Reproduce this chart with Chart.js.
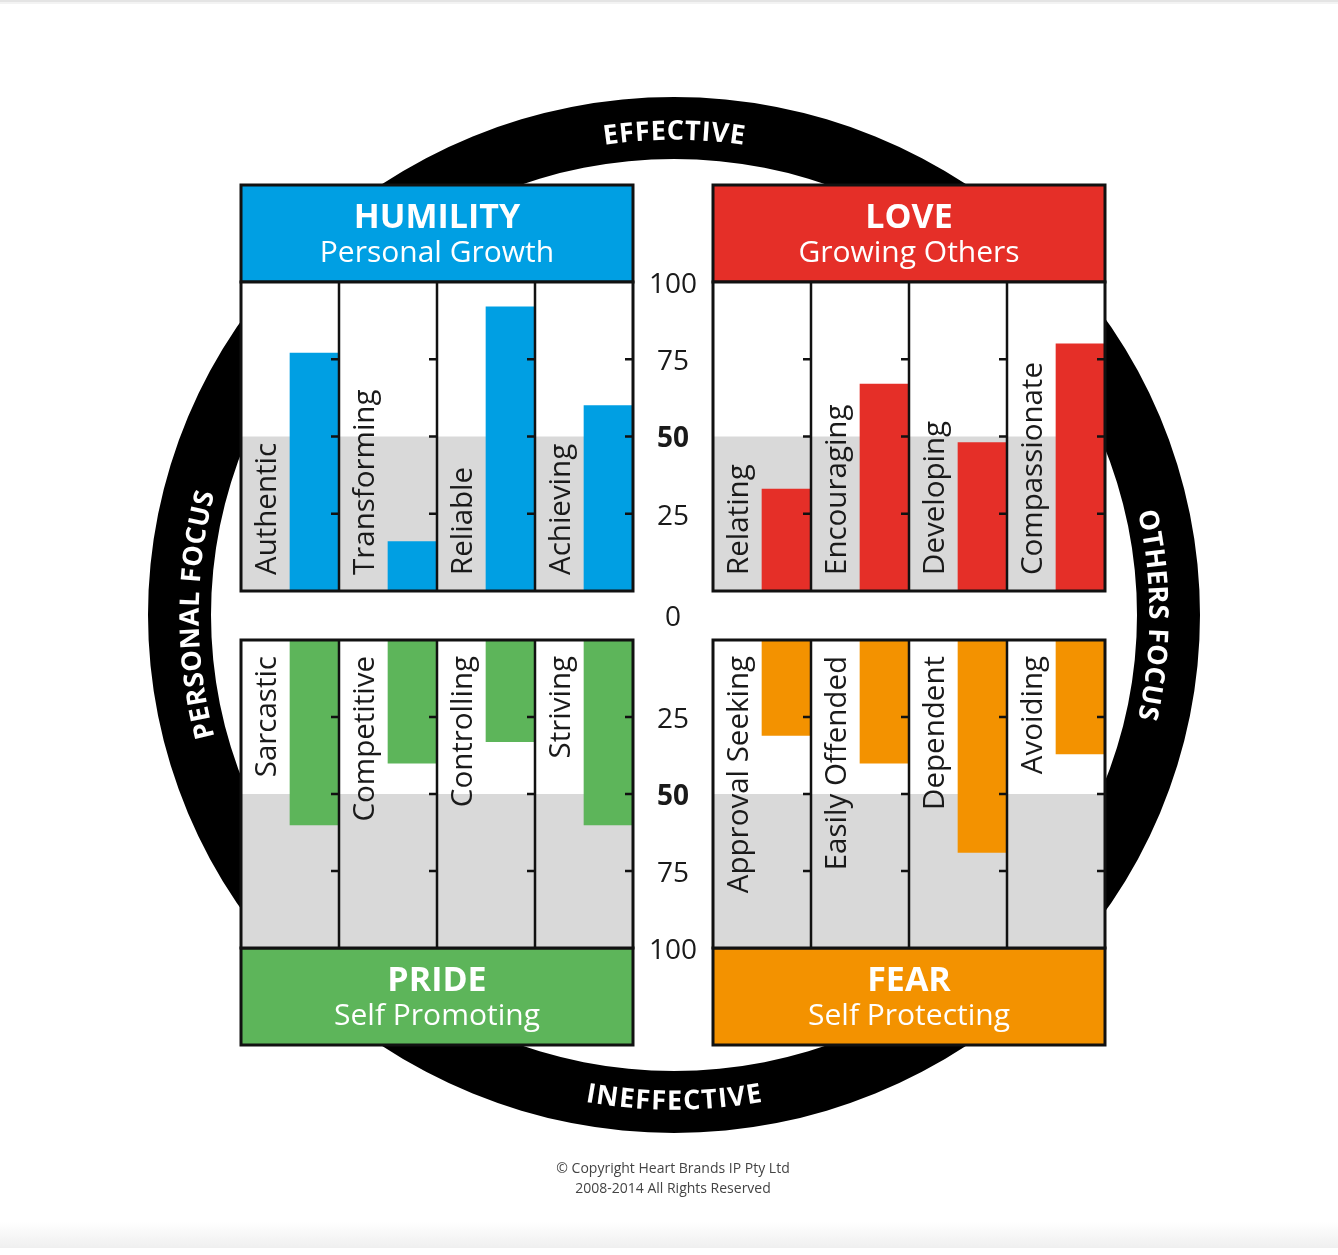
<!DOCTYPE html>
<html>
<head>
<meta charset="utf-8">
<title>Heart Brands profile</title>
<script src="https://cdn.jsdelivr.net/npm/chart.js@4.4.1/dist/chart.umd.min.js"></script>
<style>
  body { margin: 0; background: #fff; }
  #page { position: relative; width: 1338px; height: 1255px; overflow: hidden; }
  canvas { position: absolute; }
</style>
</head>
<body>
<div id="page">
  <canvas id="bg" width="1338" height="1255" style="left:0;top:0"></canvas>
  <canvas id="humility" width="483" height="340" style="left:230px;top:262px"></canvas>
  <canvas id="love" width="413" height="340" style="left:703px;top:262px"></canvas>
  <canvas id="pride" width="483" height="345" style="left:230px;top:628px"></canvas>
  <canvas id="fear" width="413" height="345" style="left:703px;top:628px"></canvas>
</div>
<script>
const humilityLabels = ['Authentic', 'Transforming', 'Reliable', 'Achieving'];
const humilityValues = [77, 16, 92, 60];
const loveLabels = ['Relating', 'Encouraging', 'Developing', 'Compassionate'];
const loveValues = [33, 67, 48, 80];
const prideLabels = ['Sarcastic', 'Competitive', 'Controlling', 'Striving'];
const prideValues = [60, 40, 33, 60];
const fearLabels = ['Approval Seeking', 'Easily Offended', 'Dependent', 'Avoiding'];
const fearValues = [31, 40, 69, 37];
const scaleTicks = [0, 25, 50, 75, 100];
const spacer = [null, null, null, null];

const FONT = '"Open Sans", sans-serif';
Chart.defaults.font.family = '"Open Sans", sans-serif';

// ---- background: ring, headers, footer ----
const bg = document.getElementById('bg').getContext('2d');
const cx = 674, cy = 615;

bg.fillStyle = '#e4e4e4';
bg.fillRect(0, 0, 1338, 2);
bg.fillStyle = '#f3f3f3';
bg.fillRect(0, 2, 1338, 2);
let fade = bg.createLinearGradient(0, 1222, 0, 1248);
fade.addColorStop(0, '#ffffff');
fade.addColorStop(1, '#efefef');
bg.fillStyle = fade;
bg.fillRect(0, 1222, 1338, 26);

bg.beginPath();
bg.ellipse(cx, cy, 526, 518, 0, 0, Math.PI * 2);
bg.moveTo(cx + 463, cy);
bg.ellipse(cx, cy, 463, 456, 0, 0, Math.PI * 2);
bg.fillStyle = '#000';
bg.fill('evenodd');

function ringText(text, mid, dir, size, spacing) {
  bg.font = `bold ${size}px ${FONT}`;
  bg.fillStyle = '#fff';
  bg.textAlign = 'center';
  bg.textBaseline = 'alphabetic';
  const r = 485;
  const chars = [...text];
  const widths = chars.map(c => bg.measureText(c).width);
  const total = widths.reduce((s, w) => s + w, 0) + spacing * (chars.length - 1);
  let a = mid - dir * total / 2 / r;
  chars.forEach((c, i) => {
    const ca = a + dir * widths[i] / 2 / r;
    bg.save();
    bg.translate(cx + r * Math.cos(ca), cy + r * Math.sin(ca));
    bg.rotate(ca + dir * Math.PI / 2);
    bg.fillText(c, 0, size * 0.357);
    bg.restore();
    a += dir * (widths[i] + spacing) / r;
  });
}
ringText('EFFECTIVE', -Math.PI / 2, 1, 27, 1);
ringText('INEFFECTIVE', Math.PI / 2, -1, 27, 1);
ringText('PERSONAL FOCUS', Math.PI, 1, 27, 1);
ringText('OTHERS FOCUS', 0, 1, 27, 1);

function header(x, y, title, sub, color) {
  bg.fillStyle = color;
  bg.fillRect(x, y, 392, 97);
  bg.lineWidth = 3;
  bg.strokeStyle = '#111';
  bg.strokeRect(x, y, 392, 97);
  bg.fillStyle = '#fff';
  bg.textAlign = 'center';
  bg.textBaseline = 'alphabetic';
  bg.font = `bold 34px ${FONT}`;
  bg.fillText(title, x + 196, y + 43);
  bg.font = `30px ${FONT}`;
  bg.fillText(sub, x + 196, y + 77);
}
header(241, 185, 'HUMILITY', 'Personal Growth', '#009fe3');
header(713, 185, 'LOVE', 'Growing Others', '#e52f28');
header(241, 948, 'PRIDE', 'Self Promoting', '#5db55a');
header(713, 948, 'FEAR', 'Self Protecting', '#f39200');

bg.fillStyle = '#1a1a1a';
bg.font = `28px ${FONT}`;
bg.fillText(String(scaleTicks[0]), 673, 626);

bg.fillStyle = '#444';
bg.font = `14px ${FONT}`;
bg.fillText('\u00a9 Copyright Heart Brands IP Pty Ltd', 673, 1173);
bg.fillText('2008-2014 All Rights Reserved', 673, 1193);

// ---- quadrant charts ----
const quadrant = {
  id: 'quadrant',
  beforeDatasetsDraw(chart, args, opts) {
    const { ctx, chartArea: a, scales: { y } } = chart;
    const y50 = y.getPixelForValue(50);
    const yEnd = y.getPixelForValue(opts.bottom ? 100 : 0);
    ctx.save();
    ctx.fillStyle = '#fff';
    ctx.fillRect(a.left, a.top, a.width, a.height);
    ctx.fillStyle = '#d9d9d9';
    ctx.fillRect(a.left, Math.min(y50, yEnd), a.width, Math.abs(yEnd - y50));
    ctx.restore();
  },
  afterDatasetsDraw(chart, args, opts) {
    const { ctx, chartArea: a, scales: { x, y } } = chart;
    const labels = chart.data.labels;
    const colW = a.width / labels.length;
    ctx.save();
    ctx.fillStyle = '#1a1a1a';
    ctx.font = `29.5px ${FONT}`;
    ctx.textBaseline = 'alphabetic';
    labels.forEach((name, i) => {
      const xc = x.getPixelForValue(i) - colW / 4;
      ctx.save();
      ctx.translate(xc, opts.bottom ? a.top + 16 : a.bottom - 16);
      ctx.rotate(-Math.PI / 2);
      ctx.textAlign = opts.bottom ? 'right' : 'left';
      ctx.fillText(name, 0, 10.5);
      ctx.restore();
    });
    ctx.strokeStyle = '#111';
    ctx.lineWidth = 2.5;
    ctx.beginPath();
    for (let i = 1; i <= labels.length; i++) {
      const xb = a.left + colW * i;
      if (i < labels.length) {
        ctx.moveTo(xb, a.top);
        ctx.lineTo(xb, a.bottom);
      }
      scaleTicks.filter(v => v > 0 && v < 100).forEach(v => {
        const yy = y.getPixelForValue(v);
        ctx.moveTo(xb - 8, yy);
        ctx.lineTo(xb, yy);
      });
    }
    ctx.stroke();
    ctx.lineWidth = 3;
    ctx.strokeRect(a.left, a.top, a.width, a.height);
    ctx.restore();
  }
};

function makeChart(id, labels, values, color, bottom, showAxis, padding) {
  return new Chart(document.getElementById(id), {
    type: 'bar',
    data: {
      labels: labels,
      datasets: [
        { data: spacer },
        { data: values, backgroundColor: color, borderWidth: 0 }
      ]
    },
    options: {
      responsive: false,
      animation: false,
      events: [],
      categoryPercentage: 1,
      barPercentage: 1,
      layout: { padding: padding },
      plugins: {
        legend: { display: false },
        tooltip: { enabled: false },
        quadrant: { bottom: bottom }
      },
      scales: {
        x: { display: false, offset: true },
        y: {
          display: showAxis,
          position: 'right',
          min: 0,
          max: 100,
          reverse: bottom,
          grid: { display: false, drawTicks: false },
          border: { display: false },
          afterBuildTicks: s => { s.ticks = scaleTicks.filter(v => v > 0).map(v => ({ value: v })); },
          afterFit: s => {
            if (!showAxis) return;
            s.width = 80;
            s.paddingTop = 0;
            s.paddingBottom = 0;
          },
          ticks: {
            padding: 16,
            labelOffset: 3,
            crossAlign: 'center',
            color: '#1a1a1a',
            font: c => ({ size: 28, weight: c.tick && c.tick.value === 50 ? 'bold' : 'normal' })
          }
        }
      }
    },
    plugins: [quadrant]
  });
}

makeChart('humility', humilityLabels, humilityValues, '#009fe3', false, true, { left: 11, top: 20, right: 0, bottom: 11 });
makeChart('love', loveLabels, loveValues, '#e52f28', false, false, { left: 10, top: 20, right: 11, bottom: 11 });
makeChart('pride', prideLabels, prideValues, '#5db55a', true, true, { left: 11, top: 12, right: 0, bottom: 25 });
makeChart('fear', fearLabels, fearValues, '#f39200', true, false, { left: 10, top: 12, right: 11, bottom: 25 });
</script>
</body>
</html>
